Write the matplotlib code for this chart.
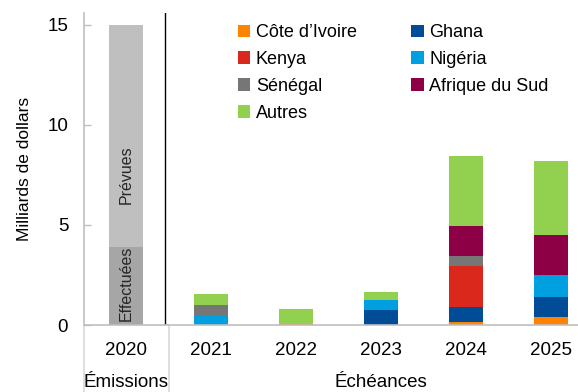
import numpy as np
import matplotlib.pyplot as plt
from matplotlib.transforms import blended_transform_factory

plt.rcParams['font.family'] = ['Liberation Sans', 'DejaVu Sans']

# issuance in 2020 (billions of dollars)
emission_year = '2020'
effectuees = 3.9
prevues = 11.1

# maturities by country, 2021-2025
years = ['2021', '2022', '2023', '2024', '2025']
cote_ivoire = [0.0, 0.05, 0.0, 0.15, 0.4]
ghana = [0.0, 0.0, 0.75, 0.77, 1.0]
kenya = [0.0, 0.0, 0.0, 2.03, 0.0]
nigeria = [0.5, 0.0, 0.5, 0.0, 1.1]
senegal = [0.5, 0.0, 0.0, 0.5, 0.0]
afrique_sud = [0.0, 0.0, 0.0, 1.5, 2.0]
autres = [0.55, 0.75, 0.4, 3.5, 3.7]

series = [
    ("Côte d\u2019Ivoire", cote_ivoire, '#FF8200'),
    ("Ghana", ghana, '#004C97'),
    ("Kenya", kenya, '#DA291C'),
    ("Nigéria", nigeria, '#009FDF'),
    ("Sénégal", senegal, '#767676'),
    ("Afrique du Sud", afrique_sud, '#8E0045'),
    ("Autres", autres, '#92D050'),
]

fig = plt.figure(figsize=(5.78, 3.92), dpi=100)
ax = fig.add_axes([83.5 / 578, 67 / 392, 494.5 / 578, 312.3 / 392])

w = 0.4
# 2020 bar: done vs planned
ax.bar(0, effectuees, w, color='#A6A6A6')
ax.bar(0, prevues, w, bottom=effectuees, color='#BFBFBF')
ax.text(0, 2.1, 'Effectuées', rotation=90, ha='center', va='center',
        fontsize=11.5, color='#262626')
ax.text(0, 7.5, 'Prévues', rotation=90, ha='center', va='center',
        fontsize=11.5, color='#262626')

# stacked maturities
x = np.arange(1, len(years) + 1)
bottom = np.zeros(len(years))
handles = {}
for name, vals, col in series:
    vals = np.array(vals)
    handles[name] = ax.bar(x, vals, w, bottom=bottom, color=col, label=name)
    bottom += vals

ax.set_xlim(-0.5, -0.5 + 494.5 / 85)
ax.set_ylim(0, 15.6)
ax.set_yticks([0, 5, 10, 15])
ax.tick_params(axis='y', direction='in', length=5, width=1, color='#BFBFBF',
               labelsize=13.5, pad=11)
ax.set_xticks(np.arange(0, len(years) + 1))
ax.set_xticklabels([emission_year] + years)
ax.tick_params(axis='x', length=0, labelsize=13.5, pad=12)

for s in ['top', 'right']:
    ax.spines[s].set_visible(False)
ax.spines['left'].set_color('#BFBFBF')
ax.spines['bottom'].set_color('#BFBFBF')
ax.spines['left'].set_linewidth(1.2)
ax.spines['bottom'].set_linewidth(1.2)

# divider between issuance and maturities
ax.axvline(0.46, color='black', lw=1)

# group separators below the axis
trans = blended_transform_factory(ax.transData, ax.transAxes)
for xs in [-0.5, 0.5]:
    ax.plot([xs, xs], [0, -0.23], color='#D9D9D9', lw=1.2, transform=trans, clip_on=False)

ax.text(0, -0.184, 'Émissions', transform=trans, ha='center', va='center', fontsize=13.5)
ax.text(3, -0.184, 'Échéances', transform=trans, ha='center', va='center', fontsize=13.5)

ax.set_ylabel('Milliards de dollars', fontsize=12.5)
ax.yaxis.set_label_coords(-0.105, 0.5)

order = ["Côte d\u2019Ivoire", "Kenya", "Sénégal", "Autres", "Ghana", "Nigéria", "Afrique du Sud"]
ax.legend([handles[n] for n in order], order, ncol=2, loc='upper left',
          bbox_to_anchor=(0.312, 0.963), frameon=False, fontsize=13,
          handlelength=0.7, handleheight=0.7, handletextpad=0.3,
          labelspacing=0.54, columnspacing=3.0, borderpad=0, borderaxespad=0)

fig.savefig('out.png', dpi=100)
